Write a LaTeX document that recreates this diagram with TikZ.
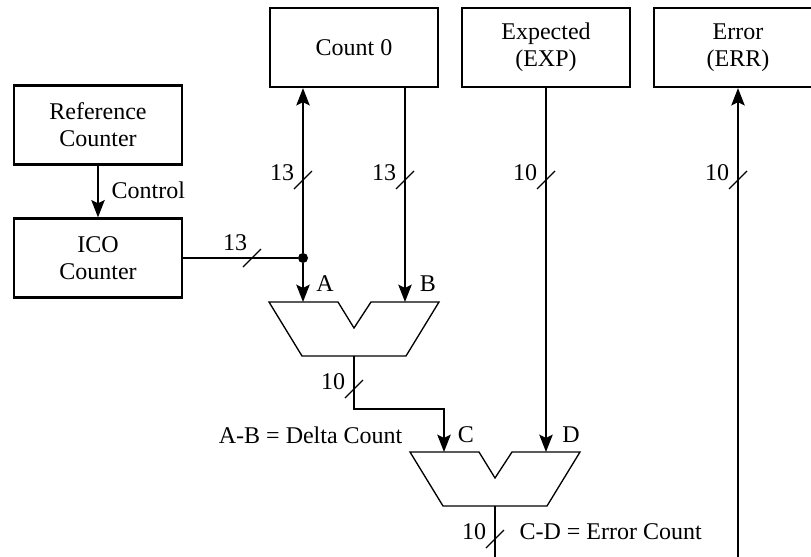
\documentclass[tikz,border=0pt]{standalone}
\usepackage{fontspec}
\setmainfont{Liberation Serif}
\usetikzlibrary{arrows.meta}
\tikzset{
  blk/.style={draw,line width=1.9pt,minimum width=126pt,minimum height=59pt,
              align=center,font=\fontsize{18}{20.3}\selectfont},
  bus/.style={line width=1.7pt},
  busarrow/.style={bus,-{Stealth[length=13pt,width=10pt,inset=2.5pt]}},
  subtr/.style={line width=1pt,line join=miter},
  tick/.style={line width=0.9pt},
  lbl/.style={font=\fontsize{18}{20.3}\selectfont,inner sep=1pt},
  dot/.style={circle,fill,inner sep=0pt,minimum size=7.5pt}
}

\begin{document}
\begin{tikzpicture}[x=0.75pt,y=-0.75pt]
    \useasboundingbox (0,0) rectangle (811,557);

    % blocks
    \node[blk] (ref) at (98,125) {Reference\\Counter};
    \node[blk] (ico) at (98,258) {ICO\\Counter};
    \node[blk] (cnt) at (354,47.5) {Count 0};
    \node[blk] (exp) at (546,47.5) {Expected\\(EXP)};
    \node[blk] (err) at (738,47.5) {Error\\(ERR)};

    % subtractors
    \coordinate (sub1) at (354,302);
    \coordinate (sub2) at (495,452);
    \draw[subtr] (sub1) ++(-85,0) -- ++(69,0) -- ++(16,26) -- ++(17,-26)
      -- ++(68,0) -- ++(-33,54) -- ++(-104,0) -- cycle;
    \draw[subtr] (sub2) ++(-85,0) -- ++(69,0) -- ++(16,26) -- ++(17,-26)
      -- ++(68,0) -- ++(-33,54) -- ++(-104,0) -- cycle;
    \coordinate (inA) at (303,302);
    \coordinate (inB) at (405,302);
    \coordinate (out1) at (354,356);
    \coordinate (inC) at (444,452);
    \coordinate (inD) at (546,452);
    \coordinate (out2) at (495,506);
    \coordinate (out2end) at (495,557);
    \coordinate (errsrc) at (738,557);

    % connections
    \node[dot] (jn) at (303,258) {};
    \draw[busarrow] (ref) -- (ico);
    \node[lbl,anchor=west] (ctl) at (110,190) {Control};
    \draw[bus] (ico.east |- jn) -- (jn);
    \draw[busarrow] (jn) -- (jn |- cnt.south);
    \draw[busarrow] (jn) -- (inA);
    \draw[busarrow] (cnt.south -| inB) -- (inB);
    \draw[busarrow] (out1) -- ++(0,53) -| (inC);
    \draw[busarrow] (exp.south) -- (inD);
    \draw[bus] (out2) -- (out2end);
    \draw[busarrow] (errsrc) -- (err.south);

    % bus widths
    \foreach \sx/\sy/\w [count=\i] in {303/180/13, 405/180/13, 546/180/10,
        738/180/10, 354/389/10, 495/539/10} {
      \draw[tick] (\sx-9,\sy+9) -- (\sx+9,\sy-9);
      \node[lbl] (w\i) at (\sx-21,\sy-7) {\w};
    }
    \draw[tick] (243,267) -- (261,249);
    \node[lbl] (w7) at (235,243) {13};

    % port labels
    \node[lbl] (labA) at (325,284) {A};
    \node[lbl] (labB) at (428,284) {B};
    \node[lbl] (labC) at (466,435) {C};
    \node[lbl] (labD) at (571,435) {D};
    \node[lbl,anchor=east] (dlt) at (404,435) {A-B = Delta Count};
    \node[lbl,anchor=west] (erc) at (518,532) {C-D = Error Count};
  \end{tikzpicture}
\end{document}
